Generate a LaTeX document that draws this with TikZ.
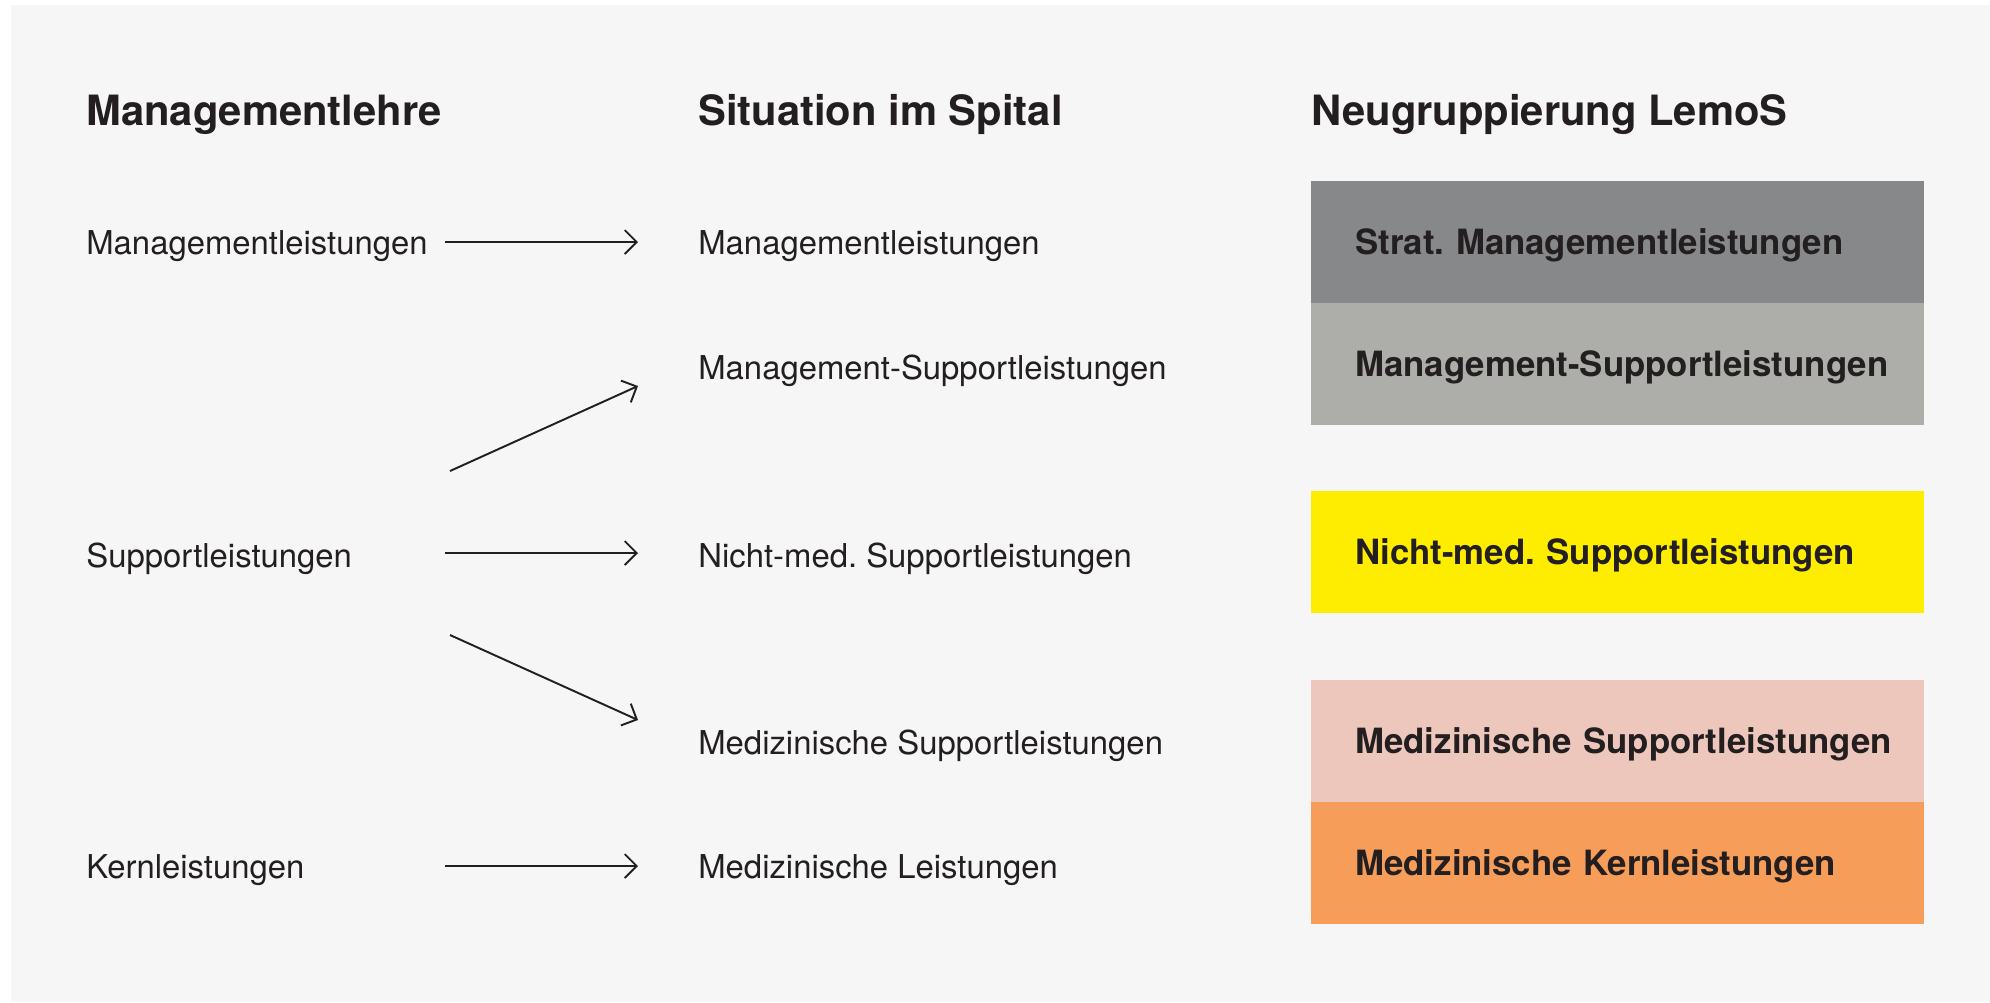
\documentclass[tikz,border=0pt]{standalone}
\usepackage{fontspec}
\setmainfont{TeX Gyre Heros}
\usepackage{xcolor}
\usetikzlibrary{arrows.meta,positioning}
\definecolor{schrift}{HTML}{231F20}
\definecolor{hinter}{HTML}{F6F6F6}
\definecolor{grauA}{HTML}{87888A}
\definecolor{grauB}{HTML}{ADAEA9}
\definecolor{gelb}{HTML}{FFED00}
\definecolor{rosa}{HTML}{EEC7BC}
\definecolor{orangeK}{HTML}{F69D5A}
\frenchspacing

\begin{document}
\begin{tikzpicture}[x=0.02cm,y=-0.02cm,
  titel/.style={anchor=base west,inner sep=0pt,text=schrift,font=\fontsize{23.75}{28}\selectfont\bfseries},
  eintrag/.style={anchor=base west,inner sep=0pt,text=schrift,font=\fontsize{18.7}{22}\selectfont},
  feld/.style={anchor=north west,minimum width=12.26cm,minimum height=2.44cm,text width=12.26cm,align=left,inner xsep=0pt,inner ysep=0pt,text height=14.2pt,text depth=0pt,text=schrift,font=\fontsize{19.8}{24}\selectfont\bfseries,execute at begin node={\hspace*{0.88cm}}},
  pfeil/.style={draw=schrift,line width=1.1pt,-{Straight Barb[length=6.8pt,width=13.6pt]}}]
% Hintergrund
\fill[white] (0,0) rectangle (1990,1002);
\fill[hinter] (11,5) rectangle (1990,1002);

% Spaltentitel
\node[titel] (lehre) at (86,125) {Managementlehre};
\node[titel] (spital) at (698,125) {Situation im Spital};
\node[titel] (lemos) at (1311,125) {Neugruppierung LemoS};

% Managementlehre
\node[eintrag] (l1) at (86,254) {Managementleistungen};
\node[eintrag] (l2) at (86,567) {Supportleistungen};
\node[eintrag] (l3) at (86,878) {Kernleistungen};

% Situation im Spital
\node[eintrag] (m1) at (698,254) {Managementleistungen};
\node[eintrag] (m2) at (698,379) {Management-Supportleistungen};
\node[eintrag] (m3) at (698,567) {Nicht-med. Supportleistungen};
\node[eintrag] (m4) at (698,754) {Medizinische Supportleistungen};
\node[eintrag] (m5) at (698,878) {Medizinische Leistungen};

% Neugruppierung
\node[feld,fill=grauA] (r1) at (1311,181) {Strat. Managementleistungen};
\node[feld,fill=grauB,below=-0.4pt of r1] (r2) {Management-Supportleistungen};
\node[feld,fill=gelb] (r3) at (1311,491) {Nicht-med. Supportleistungen};
\node[feld,fill=rosa] (r4) at (1311,680) {Medizinische Supportleistungen};
\node[feld,fill=orangeK,below=-0.4pt of r4] (r5) {Medizinische Kernleistungen};

% Pfeile
\coordinate (a1) at (445,242); \coordinate (b1) at (638,242);
\coordinate (a2) at (450,471); \coordinate (b2) at (638,386);
\coordinate (a3) at (445,553); \coordinate (b3) at (638,553);
\coordinate (a4) at (450,635); \coordinate (b4) at (638,720);
\coordinate (a5) at (445,866); \coordinate (b5) at (638,866);
\draw[pfeil] (a1) -- (b1);
\draw[pfeil] (a2) -- (b2);
\draw[pfeil] (a3) -- (b3);
\draw[pfeil] (a4) -- (b4);
\draw[pfeil] (a5) -- (b5);
\end{tikzpicture}
\end{document}
